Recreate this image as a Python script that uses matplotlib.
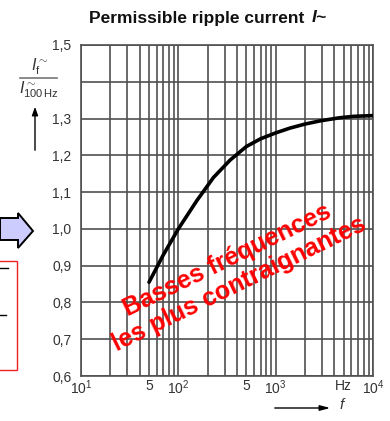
import numpy as np
import matplotlib.pyplot as plt
import matplotlib.ticker as ticker
from matplotlib.patches import Polygon, Rectangle, FancyArrowPatch
from matplotlib.lines import Line2D

plt.rcParams['font.family'] = ['Liberation Sans', 'DejaVu Sans']
plt.rcParams['mathtext.fontset'] = 'custom'
plt.rcParams['mathtext.rm'] = 'Liberation Sans'
plt.rcParams['mathtext.it'] = 'Liberation Sans:italic'
plt.rcParams['mathtext.bf'] = 'Liberation Sans:bold'

# Courbe : fréquence (Hz) et courant relatif I_f / I_100Hz
freq = [50, 70, 100, 155, 230, 340, 500, 700, 1000, 1400, 2000, 2900, 4500, 6300, 10000]
ripple = [0.855, 0.929, 1.0, 1.077, 1.14, 1.187, 1.224, 1.245, 1.261, 1.274, 1.285, 1.294, 1.302, 1.306, 1.308]

x_ticks = [10, 50, 100, 500, 1000, 5000, 10000]
x_labels = ["$10^1$", "5", "$10^2$", "5", "$10^3$", "Hz", "$10^4$"]
y_ticks = [0.6, 0.7, 0.8, 0.9, 1.0, 1.1, 1.2, 1.3, 1.4, 1.5]
y_labels = ["0,6", "0,7", "0,8", "0,9", "1,0", "1,1", "1,2", "1,3", "", "1,5"]

W, H = 390, 421
fig = plt.figure(figsize=(W / 100, H / 100), dpi=100)
fig.patch.set_facecolor('white')

def fx(px):
    return px / W

def fy(py):
    return 1 - py / H

ax = fig.add_axes([fx(81), fy(376), fx(373) - fx(81), fy(45) - fy(376)])
ax.set_xscale('log')
ax.set_xlim(10, 10000)
ax.set_ylim(0.6, 1.5)

gc = '#505050'
ax.xaxis.set_minor_locator(ticker.LogLocator(base=10, subs=np.arange(2, 10)))
ax.xaxis.set_minor_formatter(ticker.NullFormatter())
ax.set_xticks(x_ticks, labels=x_labels)
ax.set_yticks(y_ticks, labels=y_labels)
ax.grid(True, which='both', axis='x', color=gc, lw=1.2)
ax.grid(True, which='major', axis='y', color=gc, lw=1.2)
ax.tick_params(which='both', length=0, labelsize=10, colors='#333333')
ax.tick_params(axis='x', pad=2)
ax.tick_params(axis='y', pad=7)
for s in ax.spines.values():
    s.set_color(gc)
    s.set_linewidth(1.2)

ax.plot(freq, ripple, color='black', lw=2.6, solid_capstyle='round', zorder=3)

# titre
fig.text(fx(309), fy(18), "Permissible ripple current ", ha='right', va='center',
         fontsize=12.5, fontweight='bold', color='#111111')
fig.text(fx(312), fy(18), "I~", ha='left', va='center', fontsize=12.5,
         fontweight='bold', style='italic', color='#111111')

# étiquette de l'axe y
fig.text(fx(40), fy(67), r"$I_\mathrm{f}^{\sim}$", ha='center', va='center', fontsize=11.5, color='#333333')
fig.add_artist(Line2D([fx(20), fx(57)], [fy(78), fy(78)], color='#777777', lw=1.2))
fig.text(fx(39), fy(90), r"$I^{\sim}_{\mathrm{100\,Hz}}$", ha='center', va='center', fontsize=11.5, color='#333333')
fig.add_artist(FancyArrowPatch((fx(35), fy(153)), (fx(35), fy(104)), transform=fig.transFigure,
                               arrowstyle='-|>,head_length=5,head_width=1.8', color='black', lw=1))

# flèche de l'axe x
fig.add_artist(FancyArrowPatch((fx(272), fy(408)), (fx(333), fy(408)), transform=fig.transFigure,
                               arrowstyle='-|>,head_length=6,head_width=1.6', color='black', lw=1))
fig.text(fx(342), fy(405), "f", ha='center', va='center', fontsize=11, style='italic', color='#333333')

# éléments à gauche
arrow_pts = [(0, 218), (18, 218), (18, 213), (33, 231), (18, 248), (18, 240), (0, 240)]
fig.add_artist(Polygon([(fx(a), fy(b)) for a, b in arrow_pts], closed=True, transform=fig.transFigure,
                       facecolor='#ccccff', edgecolor='black', lw=1.4))
fig.add_artist(Rectangle((fx(-5), fy(370)), fx(22), fy(261) - fy(370), transform=fig.transFigure,
                         facecolor='none', edgecolor='#ee2222', lw=1))
fig.add_artist(Line2D([fx(0), fx(8)], [fy(268), fy(268)], color='black', lw=1))
fig.add_artist(Line2D([fx(0), fx(6)], [fy(315), fy(315)], color='black', lw=1))

# texte rouge
fig.text(fx(233), fy(272), "Basses fréquences\nles plus contraignantes", ha='center', va='center',
         rotation=26, rotation_mode='anchor', multialignment='center', fontsize=18,
         fontweight='bold', color='#ff0000', linespacing=1.1, zorder=5)

fig.savefig('out.png', dpi=100)
